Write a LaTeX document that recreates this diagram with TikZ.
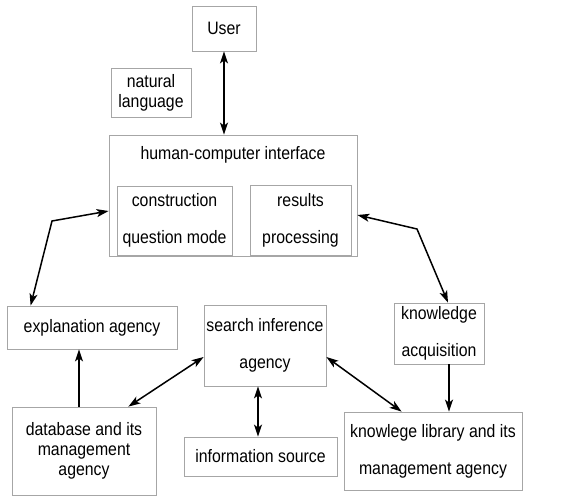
\documentclass[tikz,border=0pt]{standalone}
\usepackage{fontspec}
\setmainfont{Liberation Sans}[FakeStretch=0.88]
\usetikzlibrary{arrows.meta}

\tikzset{
	box/.style={draw=black!35, line width=0.8pt, inner sep=0pt, align=center,
		font=\fontsize{18pt}{20pt}\selectfont},
	widebox/.style={box, font=\fontsize{18pt}{37pt}\selectfont},
	link/.style={line width=1.5pt, {Stealth[length=12pt,width=8pt,inset=3pt]}-{Stealth[length=12pt,width=8pt,inset=3pt]}},
	onelink/.style={line width=1.5pt, -{Stealth[length=12pt,width=8pt,inset=3pt]}}
}

\begin{document}
\begin{tikzpicture}[x=1pt,y=-1pt]
		\useasboundingbox (0,0) rectangle (564,495);
		% boxes
		\node [box, minimum width=64pt, minimum height=45pt] (user) at (224,28.5) {User};
		\node [box, minimum width=80pt, minimum height=49pt] (natlang) at (151,92.5) {natural\\language};
		\node [box, minimum width=248pt, minimum height=121pt] (hci) at (233,195.5) {};
		\node [font=\fontsize{18pt}{20pt}\selectfont, inner sep=0pt] (hcititle) at (233,155) {human-computer interface};
		\node [widebox, minimum width=115pt, minimum height=69pt] (constr) at (174.5,220.5) {construction\\question mode};
		\node [widebox, minimum width=101pt, minimum height=70pt] (results) at (300.5,220) {results\\processing};
		\node [box, minimum width=170pt, minimum height=43pt] (expl) at (92,327.5) {explanation agency};
		\node [widebox, minimum width=122pt, minimum height=81pt] (search) at (265,345.5) {search inference\\agency};
		\node [widebox, minimum width=90pt, minimum height=61pt] (kacq) at (439,333.5) {knowledge\\acquisition};
		\node [box, minimum width=144pt, minimum height=88pt] (db) at (84,451) {database and its\\management\\agency};
		\node [box, minimum width=153pt, minimum height=39pt] (info) at (260.5,456.5) {information source};
		\node [widebox, minimum width=178pt, minimum height=78pt] (klib) at (433,451) {knowlege library and its\\management agency};
		% bends
		\coordinate (lbend) at (52,221);
		\coordinate (rbend) at (417,229);
		% arrows
		\draw [link] (user.south) -- (user.south |- hci.north);
		\draw [link] ([yshift=-15.5pt]hci.west) -- (lbend) -- ([xshift=24pt]expl.north west);
		\draw [link] ([yshift=-19.5pt]hci.east) -- (rbend) -- ([xshift=9pt]kacq.north);
		\draw [onelink] ([xshift=-5pt]db.north) -- ([xshift=-5pt]db.north |- expl.south);
		\draw [link] ([xshift=-28pt]db.north east) -- ([yshift=-11.5pt]search.west);
		\draw [link] ([xshift=-7pt]search.south) -- ([xshift=-7pt]search.south |- info.north);
		\draw [link] ([yshift=-11.5pt]search.east) -- ([xshift=58pt]klib.north west);
		\draw [onelink] ([xshift=10pt]kacq.south) -- ([xshift=10pt]kacq.south |- klib.north);
	\end{tikzpicture}
\end{document}
